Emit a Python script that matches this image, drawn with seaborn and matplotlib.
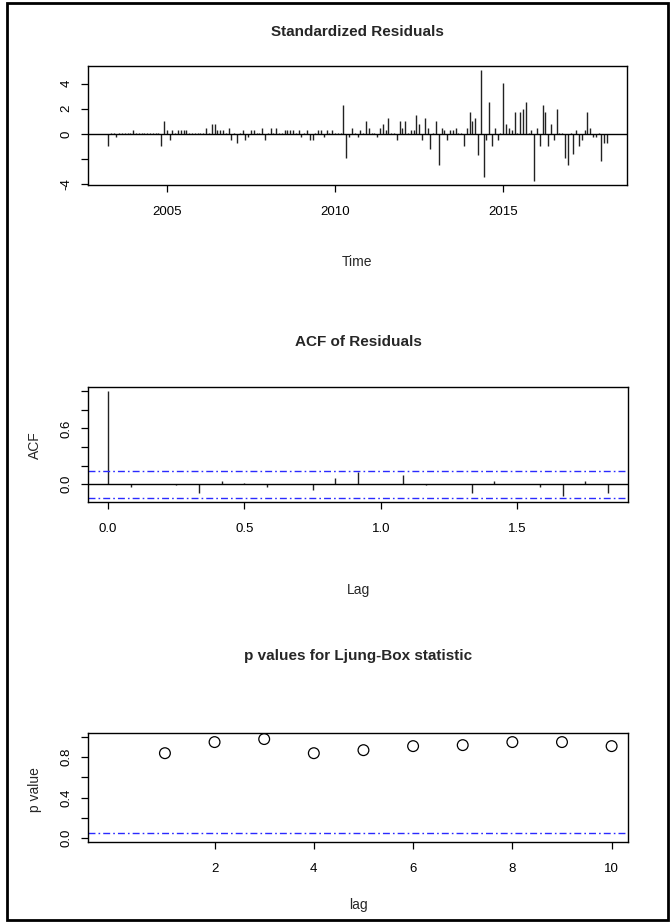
import numpy as np
import pandas as pd
import matplotlib
matplotlib.use("Agg")
import matplotlib.pyplot as plt
import seaborn as sns
from matplotlib.patches import Rectangle

# ---------------- data ----------------
start_year = 2003.25
freq = 12
resid = [
    -1.00, 0.03, 0.03, -0.27, 0.08, 0.08, 0.08, 0.08, 0.08, 0.27,
    0.03, 0.04, 0.03, 0.04, 0.03, 0.04, 0.03, 0.04, 0.03, -1.00,
    1.00, 0.27, -0.50, 0.27, 0.08, 0.27, 0.27, 0.27, 0.27, 0.05,
    0.04, 0.05, 0.04, 0.05, 0.04, 0.50, 0.05, 0.75, 0.75, 0.27,
    0.27, 0.27, 0.05, 0.50, -0.50, 0.05, -0.75, 0.05, 0.27, -0.50,
    -0.27, 0.27, 0.27, 0.05, 0.05, 0.50, -0.50, 0.05, 0.50, 0.05,
    0.50, 0.05, 0.05, 0.27, 0.27, 0.27, 0.27, 0.05, 0.27, -0.27,
    0.05, 0.27, -0.50, -0.50, 0.05, 0.27, 0.27, -0.27, 0.27, 0.05,
    0.27, 0.05, 0.05, 0.05, 2.30, -1.96, -0.27, 0.50, 0.05, -0.27,
    0.27, 0.05, 1.00, 0.50, 0.05, 0.05, -0.27, 0.50, 0.75, 0.27,
    1.26, 0.05, 0.05, -0.48, 1.02, 0.50, 1.02, 0.05, 0.27, 0.27,
    1.50, 0.75, -0.48, 1.26, 0.50, -1.24, 0.05, 1.00, -2.47, 0.50,
    0.27, -0.48, 0.27, 0.27, 0.50, 0.05, 0.05, -0.97, 0.50, 1.77,
    1.02, 1.26, -1.72, 5.05, -3.47, -0.48, 2.53, -0.97, 0.50, -0.48,
    0.05, 4.06, 0.75, 0.50, 0.27, 1.77, 0.05, 1.77, 2.00, 2.53,
    0.05, 0.27, -3.72, 0.50, -0.97, 2.28, 1.77, -0.97, 0.75, -0.48,
    2.00, 0.05, 0.05, -1.96, -2.47, 0.05, -1.60, 0.27, -0.97, -0.48,
    0.27, 1.77, 0.50, -0.25, -0.25, 0.05, -2.20, -0.73, -0.73,
]
acf_vals = [1.0, -0.03, 0.005, -0.005, -0.10, 0.036, 0.008, -0.03, 0.006,
            -0.064, 0.068, 0.13, 0.004, 0.096, -0.006, 0.005, -0.10, 0.032,
            0.004, -0.03, -0.13, 0.032, -0.10]
pv_lags = [1, 2, 3, 4, 5, 6, 7, 8, 9, 10]
pvalues = [0.84, 0.95, 0.98, 0.84, 0.87, 0.91, 0.92, 0.95, 0.95, 0.91]
resid_yticks = [-4, -2, 0, 2, 4]
resid_ylabels = ["-4", "", "0", "2", "4"]
resid_xticks = [2005, 2010, 2015]
acf_yticks = [0.0, 0.2, 0.4, 0.6, 0.8, 1.0]
acf_ylabels = ["0.0", "", "", "0.6", "", ""]
acf_xticks = [0.0, 0.5, 1.0, 1.5]
acf_xlabels = ["0.0", "0.5", "1.0", "1.5"]
pv_yticks = [0.0, 0.2, 0.4, 0.6, 0.8, 1.0]
pv_ylabels = ["0.0", "", "0.4", "", "0.8", ""]
pv_xticks = [2, 4, 6, 8, 10]

n = len(resid)
time = start_year + np.arange(n) / freq
lag_years = np.arange(len(acf_vals)) / freq
clim = 1.96 / np.sqrt(n)

df_res = pd.DataFrame({"time": time, "resid": resid})
df_acf = pd.DataFrame({"lag": lag_years, "acf": acf_vals})
df_pv = pd.DataFrame({"lag": pv_lags, "p": pvalues})

# ---------------- style ----------------
sns.set_style("ticks")
plt.rcParams['font.family'] = ['Liberation Sans', 'DejaVu Sans']
plt.rcParams['axes.edgecolor'] = 'black'
plt.rcParams['axes.linewidth'] = 1.0
plt.rcParams['xtick.color'] = 'black'
plt.rcParams['ytick.color'] = 'black'

W, H = 671, 922
fig = plt.figure(figsize=(W / 100, H / 100), dpi=100)
fig.patch.set_facecolor('white')

def rect(l, t, r, b):
    return [l / W, 1 - b / H, (r - l) / W, (b - t) / H]

def rpad(lo, hi):
    d = (hi - lo) * 0.04
    return lo - d, hi + d

def ftext(x, y, s, **kw):
    fig.text(x / W, 1 - y / H, s, ha='center', va='center', **kw)

BLUE = '#2a2aff'
DASH = (0, (5, 2.2, 1.2, 2.2))
TICK_FS = 9.5
LAB_FS = 10
TITLE_FS = 11

def style_axes(ax):
    ax.tick_params(axis='both', length=5, width=0.9, labelsize=TICK_FS)
    ax.tick_params(axis='x', pad=10)
    ax.tick_params(axis='y', pad=6)
    for lab in ax.get_yticklabels():
        lab.set_rotation(90)
        lab.set_va('center')
    for s in ax.spines.values():
        s.set_color('black')
        s.set_linewidth(1.0)

# ---------------- panel 1: standardized residuals ----------------
ax1 = fig.add_axes(rect(88, 66, 627, 185))
ax1.vlines(df_res["time"], 0, df_res["resid"], color='#222222', lw=1.0)
sns.lineplot(x=[time.min() - 5, time.max() + 5], y=[0, 0], ax=ax1,
             color='black', lw=1.0)
ax1.set_xlim(*rpad(time.min(), time.max()))
ax1.set_ylim(*rpad(min(resid), max(resid)))
ax1.set_xticks(resid_xticks)
ax1.set_xticklabels([str(t) for t in resid_xticks])
ax1.set_yticks(resid_yticks)
ax1.set_yticklabels(resid_ylabels)
ax1.set_xlabel("")
ax1.set_ylabel("")
style_axes(ax1)
ftext(357, 32, "Standardized Residuals", fontsize=TITLE_FS, fontweight='bold')
ftext(357, 262, "Time", fontsize=LAB_FS)

# ---------------- panel 2: ACF ----------------
ax2 = fig.add_axes(rect(88, 387, 628, 502))
ax2.vlines(df_acf["lag"], 0, df_acf["acf"], color='#222222', lw=1.0)
xl = rpad(lag_years.min(), lag_years.max())
sns.lineplot(x=[xl[0] - 1, xl[1] + 1], y=[0, 0], ax=ax2, color='black', lw=1.0)
for c in (clim, -clim):
    ax2.axhline(c, color=BLUE, lw=1.0, linestyle=DASH)
ax2.set_xlim(*xl)
ax2.set_ylim(*rpad(min(-clim, min(acf_vals)), max(clim, max(acf_vals))))
ax2.set_xticks(acf_xticks)
ax2.set_xticklabels(acf_xlabels)
ax2.set_yticks(acf_yticks)
ax2.set_yticklabels(acf_ylabels)
ax2.set_xlabel("")
ax2.set_ylabel("")
style_axes(ax2)
ftext(358, 342, "ACF of Residuals", fontsize=TITLE_FS, fontweight='bold')
ftext(358, 590, "Lag", fontsize=LAB_FS)
ftext(35, 445, "ACF", fontsize=LAB_FS, rotation=90)

# ---------------- panel 3: Ljung-Box p values ----------------
ax3 = fig.add_axes(rect(88, 733, 628, 842))
sns.scatterplot(data=df_pv, x="lag", y="p", ax=ax3, marker='o', s=60,
                facecolors='none', edgecolor='black', linewidth=0.9)
ax3.axhline(0.05, color=BLUE, lw=1.0, linestyle=DASH)
ax3.set_xlim(-0.55, 10.33)
ax3.set_ylim(-0.04, 1.04)
ax3.set_xticks(pv_xticks)
ax3.set_xticklabels([str(t) for t in pv_xticks])
ax3.set_yticks(pv_yticks)
ax3.set_yticklabels(pv_ylabels)
ax3.set_xlabel("")
ax3.set_ylabel("")
style_axes(ax3)
ftext(358, 656, "p values for Ljung-Box statistic", fontsize=TITLE_FS, fontweight='bold')
ftext(358, 905, "lag", fontsize=LAB_FS)
ftext(35, 790, "p value", fontsize=LAB_FS, rotation=90)

# ---------------- outer frame ----------------
fig.patches.append(Rectangle((7 / W, 1 - 920 / H), (668 - 7) / W, (920 - 3) / H,
                             transform=fig.transFigure, fill=False, lw=2,
                             ec='black', zorder=10))

fig.savefig("out.png", dpi=100, facecolor='white')
